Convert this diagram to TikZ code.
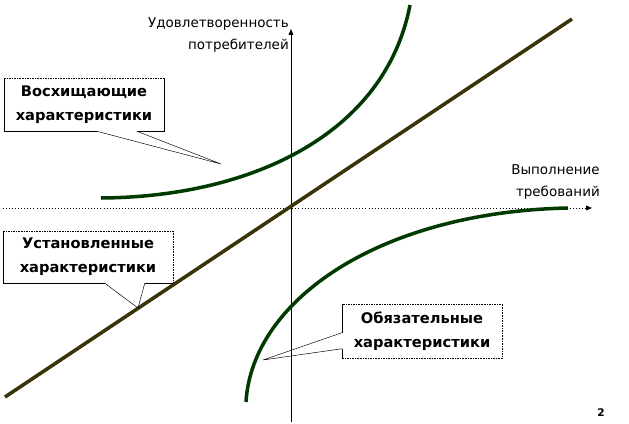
\documentclass[tikz,border=0pt]{standalone}
\usepackage{fontspec}
\setmainfont{DejaVu Sans}
\usetikzlibrary{calc,arrows.meta}
\definecolor{olivedark}{RGB}{58,52,8}
\definecolor{curvegreen}{RGB}{0,58,0}

\begin{document}
\begin{tikzpicture}
		[
		x=0.3mm, y=-0.3mm,
		callout/.style={inner sep=0pt, align=center, font=\bfseries\fontsize{12.5}{20.5}\selectfont},
		axislabel/.style={inner sep=0pt, align=right, anchor=east, font=\fontsize{11.5}{19.5}\selectfont},
		axisline/.style={line width=0.6pt},
		tip/.style={-{Triangle[length=5pt,width=4pt]}},
		curve/.style={line width=3pt, curvegreen},
		pointer/.style={line width=0.4pt}
		]
		\useasboundingbox (0,0) rectangle (629,424);
		% axes
		\coordinate (xstart) at (3,208);
		\coordinate (xend) at (592,208);
		\coordinate (ystart) at (291,422);
		\coordinate (yend) at (291,29);
		\draw[axisline, dotted, tip] (xstart) -- (xend);
		\draw[axisline, tip] (ystart) -- (yend);
		\node[axislabel] (ylab) at (289,35) {Удовлетворенность\\потребителей};
		\node[axislabel] (xlab) at (600,182) {Выполнение\\требований};
		% lines
		\draw[line width=3pt, olivedark] (5,397) -- (572,19);
		\draw[curve] (101,198) .. controls (250,197) and (385,135) .. (410,5);
		\draw[curve] (246,402) .. controls (252,300) and (380,212) .. (568,208);
		% callouts
		\node[callout, minimum width=48mm, minimum height=15.9mm] (bx1) at (84,104.5) {Восхищающие\\характеристики};
		\node[callout, minimum width=51mm, minimum height=15.6mm] (bx2) at (88,257) {Установленные\\характеристики};
		\node[callout, minimum width=48mm, minimum height=16.2mm] (bx3) at (422,331) {Обязательные\\характеристики};
		\coordinate (tip1) at (221,164);
		\coordinate (tip2) at (138,308);
		\coordinate (tip3) at (263,360);
		% box 1
		\draw[pointer] ($(bx1.south west)+(93,0)$) -- (tip1) -- ($(bx1.south west)+(133,0)$);
		\draw[pointer] (bx1.north east) -- (bx1.south east) -- ($(bx1.south west)+(133,0)$);
		\draw[pointer] ($(bx1.south west)+(93,0)$) -- (bx1.south west) -- (bx1.north west);
		\draw[pointer, densely dotted] (bx1.north west) -- (bx1.north east);
		% box 2
		\draw[pointer] ($(bx2.south west)+(102,0)$) -- (tip2) -- ($(bx2.south west)+(142,0)$);
		\draw[pointer] (bx2.south east) -- ($(bx2.south west)+(142,0)$);
		\draw[pointer] ($(bx2.south west)+(102,0)$) -- (bx2.south west) -- (bx2.north west);
		\draw[pointer, densely dotted] (bx2.north west) -- (bx2.north east) -- (bx2.south east);
		% box 3
		\draw[pointer] ($(bx3.north west)+(0,29)$) -- (tip3) -- ($(bx3.north west)+(0,45)$);
		\draw[pointer] (bx3.north west) -- ($(bx3.north west)+(0,29)$);
		\draw[pointer] ($(bx3.north west)+(0,45)$) -- (bx3.south west);
		\draw[pointer, densely dotted] (bx3.south west) -- (bx3.south east) -- (bx3.north east) -- (bx3.north west);
		% page number
		\node[font=\bfseries\fontsize{9}{10}\selectfont, inner sep=0pt] (pnum) at (601,413) {2};
\end{tikzpicture}
\end{document}
